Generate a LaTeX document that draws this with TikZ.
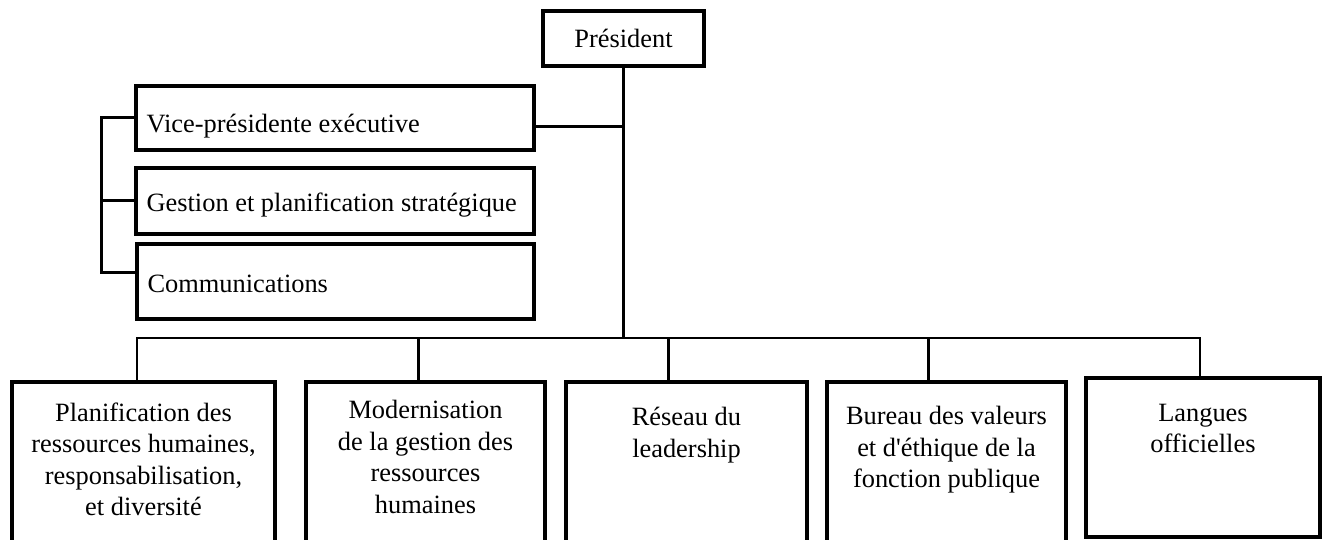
\documentclass[tikz,border=0pt]{standalone}
\usepackage{fontspec}
\setmainfont{Liberation Serif}[Ligatures=TeXOff]
\usetikzlibrary{positioning}

\begin{document}
\begin{tikzpicture}[x=1pt,y=1pt]
		\tikzstyle{every node}+=[inner sep=0pt, font=\fontsize{26.4}{31.5}\selectfont]
		\tikzstyle{unit}=[draw, black, line width=3.2pt]
		\tikzstyle{lbl}=[align=center]
		\tikzstyle{link}=[black, line width=3pt]
		\tikzstyle{bus}=[black, line width=2.6pt]
		\useasboundingbox (0,0) rectangle (1326,-540);
		\node [unit, minimum width=161, minimum height=55] (pres) at (623.5,-38.5) {Président};
		\node [unit, minimum width=398, minimum height=64] (vp) at (335,-118) {};
		\node [unit, minimum width=398, minimum height=66] (gest) at (335,-201) {};
		\node [unit, minimum width=397, minimum height=75] (comm) at (335.5,-281.5) {};
		\node [anchor=base west] (vpt) at ([shift={(12,-15)}]vp.west) {Vice-présidente exécutive};
		\node [anchor=base west] (gestt) at ([shift={(12,-11)}]gest.west) {Gestion et planification stratégique};
		\node [anchor=base west] (commt) at ([shift={(12,-10.5)}]comm.west) {Communications};
		\node [unit, minimum width=263, minimum height=178] (b1) at (143.5,-471) {};
		\node [unit, minimum width=239, minimum height=178] (b2) at (425.5,-471) {};
		\node [unit, minimum width=241, minimum height=178] (b3) at (686.5,-471) {};
		\node [unit, minimum width=239, minimum height=178] (b4) at (946.5,-471) {};
		\node [unit, minimum width=234, minimum height=159] (b5) at (1203,-457.5) {};
		\node [lbl, below=22pt of b1.north] (b1t) {Planification des\\ressources humaines,\\responsabilisation,\\et diversité};
		\node [lbl, below=20pt of b2.north] (b2t) {Modernisation\\de la gestion des\\ressources\\humaines};
		\node [lbl, below=27pt of b3.north] (b3t) {Réseau du\\leadership};
		\node [lbl, below=26pt of b4.north] (b4t) {Bureau des valeurs\\et d'éthique de la\\fonction publique};
		\node [lbl, below=27.5pt of b5.north] (b5t) {Langues\\officielles};
		\coordinate (d1) at (137,-338);
		\coordinate (d2) at (418,-338);
		\coordinate (d3) at (668,-338);
		\coordinate (d4) at (928,-338);
		\coordinate (d5) at (1200,-338);
		\draw [link] (pres.south) -- (pres.south |- d1);
		\draw [link] ([yshift=-9pt]vp.east) -- ([yshift=-9pt]vp.east -| pres.south);
		\draw [link] (vp.west) -- ++(-33,0) |- ([yshift=8.5pt]comm.west);
		\draw [link] (gest.west) -- ++(-33,0);
		\draw [bus] (d1 |- b1.north) -- (d1) -- (d5) -- (d5 |- b5.north);
		\draw [link] (d2) -- (d2 |- b2.north);
		\draw [link] (d3) -- (d3 |- b3.north);
		\draw [link] (d4) -- (d4 |- b4.north);
		\end{tikzpicture}
\end{document}
